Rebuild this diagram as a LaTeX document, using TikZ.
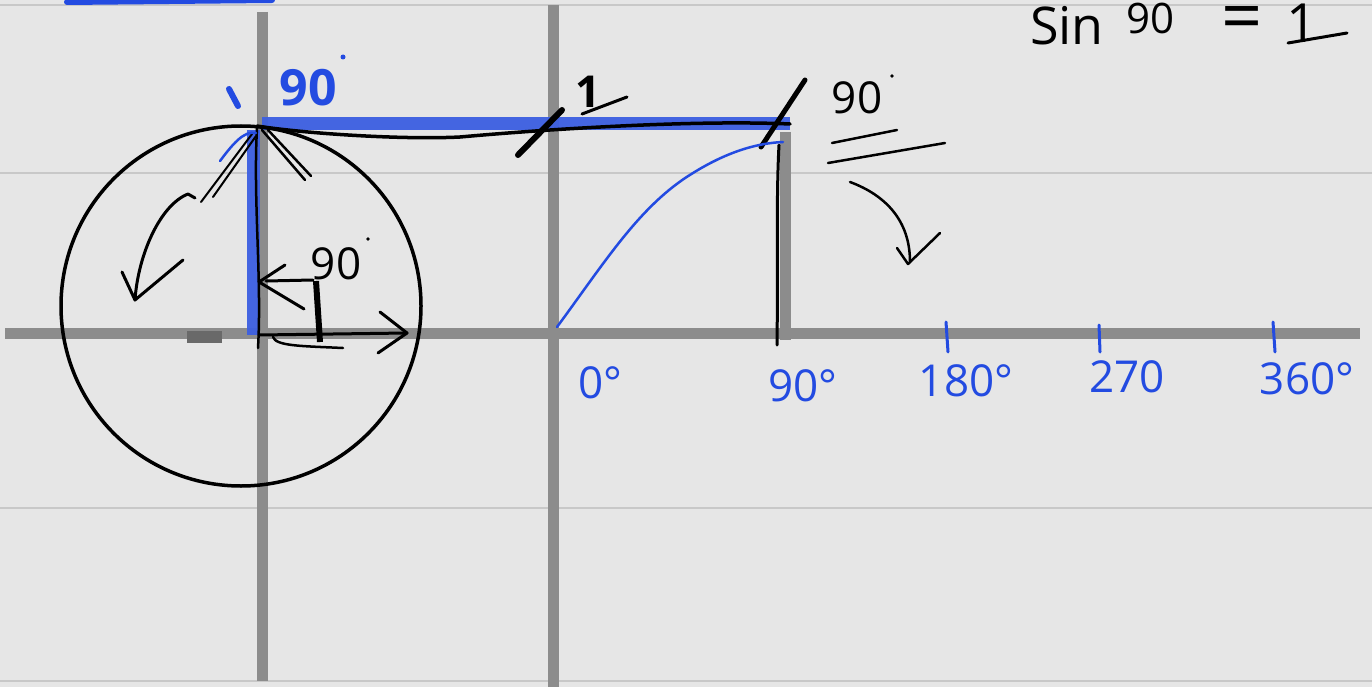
\documentclass[tikz,border=0pt]{standalone}
\usepackage{fontspec}
\setmainfont{Open Sans}
\definecolor{bg}{RGB}{230,230,230}
\definecolor{rulegray}{RGB}{200,200,200}
\definecolor{axisgray}{RGB}{140,140,140}
\definecolor{darkgray2}{RGB}{105,105,105}
\definecolor{inkblue}{RGB}{35,75,225}
\definecolor{thickblue}{RGB}{60,95,225}
\begin{document}
\begin{tikzpicture}[x=1pt,y=-1pt,
  rule/.style={draw=rulegray,line width=2pt},
  axis/.style={draw=axisgray,line width=11pt},
  ink/.style={draw=black,line width=3pt,line cap=round,line join=round},
  bink/.style={draw=inkblue,line width=3pt,line cap=round,line join=round},
  hl/.style={draw=thickblue,line width=13pt,opacity=0.95},
  blab/.style={text=inkblue,font=\fontsize{44}{48}\selectfont,inner sep=0pt},
  klab/.style={text=black,font=\fontsize{44}{48}\selectfont,inner sep=0pt}]
\fill[bg] (0,0) rectangle (1372,687);
\useasboundingbox (0,0) rectangle (1372,687);
\begin{scope}
\clip (0,0) rectangle (1372,687);
% ruled lines
\draw[rule] (0,5) -- (1372,5);
\draw[rule] (0,173) -- (1372,173);
\draw[rule] (0,508) -- (1372,508);
\draw[rule] (0,681) -- (1372,681);
% gray axes
\draw[axis] (262,12) -- (262,681);
\draw[axis] (553,5) -- (553,687);
\draw[axis] (5,333) -- (1360,333);
\draw[axis] (785,132) -- (785,340);
\fill[darkgray2] (187,331) rectangle (222,343);
% top-left blue stroke
\draw[bink,line width=6pt] (67,2) -- (272,0);
% thick blue highlights
\draw[hl] (253,130) -- (253,335);
\draw[hl] (262,124) -- (790,124);
% unit circle
\draw[ink,line width=3.5pt] (241,306) circle (180);
% black line from circle top to the 90 deg point
\draw[ink,line width=3.5pt] (257,126) .. controls (300,133) and (400,140) .. (460,137)
  .. controls (560,128) and (700,120) .. (790,124);
% radius drawn in black
\draw[ink,line width=2.5pt] (257,128) .. controls (253,200) and (262,280) .. (258,348);
% strokes near circle top
\draw[ink,line width=2.5pt] (262,130) -- (305,180);
\draw[ink,line width=2.5pt] (268,130) -- (311,176);
\draw[ink,line width=2pt] (252,134) -- (201,202);
\draw[ink,line width=2pt] (256,136) -- (213,197);
\draw[bink,line width=2.5pt] (220,161) .. controls (232,145) and (244,130) .. (256,133);
% left curved arrow
\draw[ink] (188,194) -- (195,198);
\draw[ink] (188,194) .. controls (160,205) and (138,255) .. (135,300);
\draw[ink] (122,272) -- (135,300) -- (183,260);
% right angle marker and left arrow
\draw[ink] (285,265) -- (259,282) -- (304,309);
\draw[ink] (266,281) -- (313,280);
\draw[ink,line width=6pt,line cap=butt] (316,281) -- (320,342);
\draw[ink,line width=2.5pt] (273,337) .. controls (276,346) and (300,346) .. (343,348);
% arrow along x axis
\draw[ink] (259,335) -- (407,333);
\draw[ink] (380,312) -- (407,333) -- (378,353);
% tick slashes
\draw[ink,line width=6pt] (518,155) -- (562,110);
\draw[ink,line width=5pt] (761,147) -- (805,80);
% drop line at 90 deg
\draw[ink,line width=3pt] (779,145) .. controls (776,200) and (778,280) .. (777,345);
% blue sine curve
\draw[bink,line width=2.5pt] (557,327) .. controls (605,262) and (640,205) .. (693,173)
  .. controls (730,150) and (760,143) .. (783,142);
% blue labels near circle
\draw[bink,line width=6pt] (229,89) -- (238,106);
\node[blab,font=\fontsize{50}{54}\selectfont\bfseries] (bnine) at (308,88) {90};
\fill[inkblue] (343,57) circle (2.5);
% black labels
\node[klab] (cnine) at (336,264) {90};
\fill[black] (368,239) circle (1.8);
\node[klab,font=\fontsize{44}{48}\selectfont\bfseries] (one) at (588,92) {1};
\draw[ink] (582,114) -- (627,97);
\node[klab] (rnine) at (857,98) {90};
\fill[black] (892,76) circle (1.8);
\draw[ink,line width=2.5pt] (832,143) -- (897,130);
\draw[ink,line width=2.5pt] (828,163) -- (945,143);
% right curved arrow
\draw[ink,line width=2.5pt] (850,182) .. controls (885,195) and (910,220) .. (910,262);
\draw[ink,line width=2.5pt] (897,248) -- (908,264) -- (940,233);
% sin 90 = 1
\node[klab,anchor=base west,font=\fontsize{52}{56}\selectfont] (sinw) at (1030,45) {Sin};
\node[klab,font=\fontsize{42}{46}\selectfont] (ninety) at (1150,18) {90};
\node[klab,font=\fontsize{72}{76}\selectfont] (eq) at (1242,24) {=};
\node[klab,font=\fontsize{54}{58}\selectfont] (oneb) at (1302,23) {1};
\draw[ink] (1288,43) -- (1347,33);
% x axis ticks and labels
\draw[bink] (946,322) -- (948,352);
\draw[bink] (1099,325) -- (1100,352);
\draw[bink] (1273,322) -- (1275,352);
\node[blab] (l0) at (600,383) {0°};
\node[blab] (l90) at (803,386) {90°};
\node[blab] (l180) at (966,381) {180°};
\node[blab] (l270) at (1127,377) {270};
\node[blab] (l360) at (1307,379) {360°};
\end{scope}
\end{tikzpicture}
\end{document}
